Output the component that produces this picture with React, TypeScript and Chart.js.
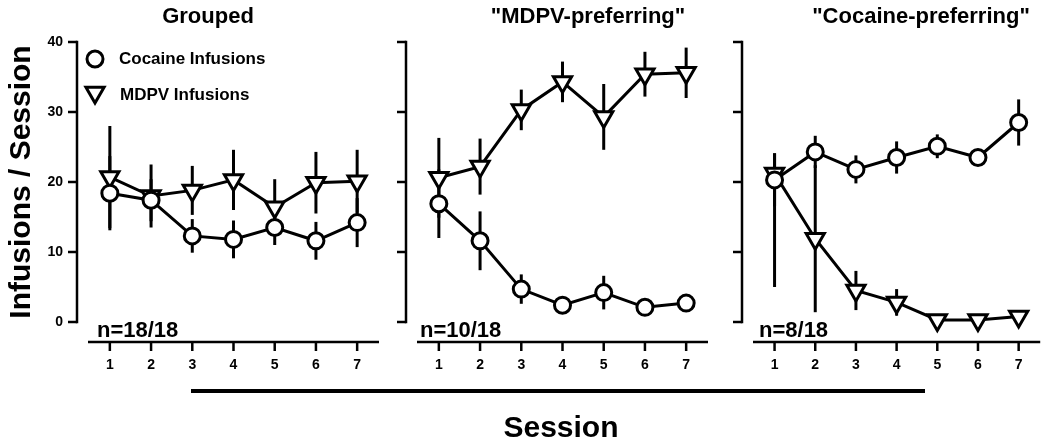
import React, { useEffect, useRef } from "react";
import { Chart, registerables } from "chart.js";

Chart.register(...registerables);

const FONT = "'Liberation Sans', Arial, Helvetica, sans-serif";

// ---- data ----
const sessions = [1, 2, 3, 4, 5, 6, 7];
const sessionLabels = ["1", "2", "3", "4", "5", "6", "7"];
const yTickValues = [0, 10, 20, 30, 40];
const yTickLabels = ["0", "10", "20", "30", "40"];
const panelTitles = ["Grouped", '"MDPV-preferring"', '"Cocaine-preferring"'];
const nLabels = ["n=18/18", "n=10/18", "n=8/18"];
const seriesNames = ["Cocaine Infusions", "MDPV Infusions"];
const yAxisTitle = "Infusions / Session";
const xAxisTitle = "Session";

// Grouped
const groupedCocaine = [18.4, 17.4, 12.3, 11.8, 13.5, 11.6, 14.2];
const groupedCocaineErr = [5.3, 3.0, 2.4, 2.7, 2.5, 2.7, 3.5];
const groupedMdpv = [20.7, 18.0, 18.8, 20.3, 16.4, 19.9, 20.1];
const groupedMdpvErr = [7.3, 4.5, 3.5, 4.3, 4.0, 4.4, 4.5];

// "MDPV-preferring"
const mdpvPrefCocaine = [16.9, 11.6, 4.7, 2.4, 4.2, 2.1, 2.7];
const mdpvPrefCocaineErr = [4.9, 4.2, 2.1, 0.5, 2.4, 0.4, 0.6];
const mdpvPrefMdpv = [20.6, 22.2, 30.3, 34.3, 29.3, 35.4, 35.6];
const mdpvPrefMdpvErr = [5.7, 4.0, 2.9, 2.9, 4.7, 3.2, 3.6];

// "Cocaine-preferring"
const cocPrefCocaine = [20.3, 24.3, 21.8, 23.5, 25.1, 23.5, 28.5];
const cocPrefCocaineErr = [3.8, 2.3, 2.0, 2.3, 1.7, 0.6, 3.3];
const cocPrefMdpv = [21.2, 11.9, 4.5, 2.8, 0.3, 0.3, 0.8];
const cocPrefMdpvErrDown = [16.2, 10.5, 2.8, 1.9, 0.3, 0.2, 0.5];
const cocPrefMdpvErrUp = [2.9, 10.5, 2.8, 1.9, 0.3, 0.2, 0.5];

type Series = { data: number[]; errDown: number[]; errUp: number[] };
type PanelDef = {
  title: string;
  nLabel: string;
  cocaine: Series;
  mdpv: Series;
  left: number;
  right: number;
  titleX: number;
  nX: number;
  showY: boolean;
  showLegend: boolean;
  showSession: boolean;
};

const panels: PanelDef[] = [
  {
    title: panelTitles[0],
    nLabel: nLabels[0],
    cocaine: { data: groupedCocaine, errDown: groupedCocaineErr, errUp: groupedCocaineErr },
    mdpv: { data: groupedMdpv, errDown: groupedMdpvErr, errUp: groupedMdpvErr },
    left: 88,
    right: 379,
    titleX: 208,
    nX: 97,
    showY: true,
    showLegend: true,
    showSession: false,
  },
  {
    title: panelTitles[1],
    nLabel: nLabels[1],
    cocaine: { data: mdpvPrefCocaine, errDown: mdpvPrefCocaineErr, errUp: mdpvPrefCocaineErr },
    mdpv: { data: mdpvPrefMdpv, errDown: mdpvPrefMdpvErr, errUp: mdpvPrefMdpvErr },
    left: 417,
    right: 708,
    titleX: 588,
    nX: 420,
    showY: false,
    showLegend: false,
    showSession: true,
  },
  {
    title: panelTitles[2],
    nLabel: nLabels[2],
    cocaine: { data: cocPrefCocaine, errDown: cocPrefCocaineErr, errUp: cocPrefCocaineErr },
    mdpv: { data: cocPrefMdpv, errDown: cocPrefMdpvErrDown, errUp: cocPrefMdpvErrUp },
    left: 753,
    right: 1044,
    titleX: 921,
    nX: 759,
    showY: false,
    showLegend: false,
    showSession: false,
  },
];

const W = 1050;
const H = 447;
const CIRCLE_R = 8;
const TRI_R = 10.5;

function drawTriangleDown(ctx: CanvasRenderingContext2D, x: number, y: number, r: number) {
  ctx.beginPath();
  for (let k = 0; k < 3; k++) {
    const a = Math.PI + (k * 2 * Math.PI) / 3;
    const px = x + Math.sin(a) * r;
    const py = y - Math.cos(a) * r;
    if (k === 0) ctx.moveTo(px, py);
    else ctx.lineTo(px, py);
  }
  ctx.closePath();
}

function makePlugin(p: PanelDef) {
  return {
    id: "prismDeco",
    beforeDatasetsDraw(chart: any) {
      const ctx: CanvasRenderingContext2D = chart.ctx;
      const xs = chart.scales.x;
      const ys = chart.scales.y;
      ctx.save();
      ctx.strokeStyle = "#000";
      ctx.lineWidth = 3;
      ctx.lineCap = "butt";
      [p.cocaine, p.mdpv].forEach((s) => {
        s.data.forEach((v, i) => {
          const x = xs.getPixelForValue(sessions[i]);
          const y1 = ys.getPixelForValue(v + s.errUp[i]);
          const y2 = ys.getPixelForValue(v - s.errDown[i]);
          ctx.beginPath();
          ctx.moveTo(x, y1);
          ctx.lineTo(x, y2);
          ctx.stroke();
        });
      });
      ctx.restore();
    },
    afterDraw(chart: any) {
      const ctx: CanvasRenderingContext2D = chart.ctx;
      const xs = chart.scales.x;
      const ys = chart.scales.y;
      const ca = chart.chartArea;
      ctx.save();
      ctx.strokeStyle = "#000";
      ctx.fillStyle = "#000";
      ctx.lineWidth = 2.5;
      ctx.lineCap = "butt";

      // y axis (offset, Prism style)
      const ax = ca.left - 11;
      const yTop = ys.getPixelForValue(yTickValues[yTickValues.length - 1]);
      const yBot = ys.getPixelForValue(yTickValues[0]);
      ctx.beginPath();
      ctx.moveTo(ax, yTop - 1.25);
      ctx.lineTo(ax, yBot + 1.25);
      ctx.stroke();
      yTickValues.forEach((v) => {
        const y = ys.getPixelForValue(v);
        ctx.beginPath();
        ctx.moveTo(ax - 9, y);
        ctx.lineTo(ax, y);
        ctx.stroke();
      });

      // x axis (offset below zero)
      const axY = yBot + 20;
      ctx.beginPath();
      ctx.moveTo(ca.left, axY);
      ctx.lineTo(ca.right, axY);
      ctx.stroke();
      sessions.forEach((s) => {
        const x = xs.getPixelForValue(s);
        ctx.beginPath();
        ctx.moveTo(x, axY);
        ctx.lineTo(x, axY + 9);
        ctx.stroke();
      });

      // panel title
      ctx.font = `bold 22px ${FONT}`;
      ctx.textAlign = "center";
      ctx.textBaseline = "alphabetic";
      ctx.fillText(p.title, p.titleX, 23);

      // n label
      ctx.font = `bold 22px ${FONT}`;
      ctx.textAlign = "left";
      ctx.fillText(p.nLabel, p.nX, 337);

      if (p.showLegend) {
        ctx.lineWidth = 3;
        ctx.fillStyle = "#fff";
        ctx.beginPath();
        ctx.arc(95, 59, CIRCLE_R, 0, Math.PI * 2);
        ctx.fill();
        ctx.stroke();
        drawTriangleDown(ctx, 95, 92.5, TRI_R);
        ctx.fill();
        ctx.stroke();
        ctx.fillStyle = "#000";
        ctx.font = `bold 17px ${FONT}`;
        ctx.textBaseline = "middle";
        ctx.fillText(seriesNames[0], 119, 59);
        ctx.fillText(seriesNames[1], 120, 95);
      }

      if (p.showSession) {
        ctx.lineWidth = 4;
        ctx.beginPath();
        ctx.moveTo(191, 391);
        ctx.lineTo(925, 391);
        ctx.stroke();
        ctx.font = `bold 30px ${FONT}`;
        ctx.textAlign = "center";
        ctx.textBaseline = "alphabetic";
        ctx.fillText(xAxisTitle, 561, 437);
      }
      ctx.restore();
    },
  };
}

function Panel({ p }: { p: PanelDef }) {
  const ref = useRef<HTMLCanvasElement | null>(null);
  useEffect(() => {
    if (!ref.current) return;
    const yWidth = p.showY ? 88 : 0;
    const chart = new Chart(ref.current, {
      type: "line",
      data: {
        datasets: [
          {
            label: seriesNames[0],
            data: sessions.map((s, i) => ({ x: s, y: p.cocaine.data[i] })),
            borderColor: "#000",
            borderWidth: 3,
            pointStyle: "circle",
            pointRadius: CIRCLE_R,
            pointHoverRadius: CIRCLE_R,
            pointBackgroundColor: "#fff",
            pointBorderColor: "#000",
            pointBorderWidth: 3,
            tension: 0,
            clip: false,
          } as any,
          {
            label: seriesNames[1],
            data: sessions.map((s, i) => ({ x: s, y: p.mdpv.data[i] })),
            borderColor: "#000",
            borderWidth: 3,
            pointStyle: "triangle",
            pointRotation: 180,
            pointRadius: TRI_R,
            pointHoverRadius: TRI_R,
            pointBackgroundColor: "#fff",
            pointBorderColor: "#000",
            pointBorderWidth: 3,
            tension: 0,
            clip: false,
          } as any,
        ],
      },
      options: {
        animation: false,
        responsive: false,
        events: [],
        layout: {
          autoPadding: false,
          padding: { left: p.left - yWidth, right: W - p.right, top: 42, bottom: 0 },
        },
        plugins: {
          legend: { display: false },
          tooltip: { enabled: false },
          title: { display: false },
        },
        scales: {
          x: {
            type: "linear",
            min: 0.47,
            max: 7.53,
            grid: { display: false },
            border: { display: false },
            afterBuildTicks: (s: any) => {
              s.ticks = sessions.map((v) => ({ value: v }));
            },
            afterFit: (s: any) => {
              s.height = 125;
            },
            ticks: {
              padding: 27,
              color: "#000",
              font: { family: FONT, size: 14, weight: "bold" },
              maxRotation: 0,
              autoSkip: false,
              callback: (v: any) => sessionLabels[sessions.indexOf(Number(v))],
            },
          },
          y: {
            type: "linear",
            min: 0,
            max: 40,
            grid: { display: false },
            border: { display: false },
            afterBuildTicks: (s: any) => {
              s.ticks = yTickValues.map((v) => ({ value: v }));
            },
            afterFit: (s: any) => {
              s.width = yWidth;
            },
            ticks: {
              display: p.showY,
              padding: 17,
              color: "#000",
              font: { family: FONT, size: 14, weight: "bold" },
              callback: (v: any) => yTickLabels[yTickValues.indexOf(Number(v))],
            },
            title: {
              display: p.showY,
              text: yAxisTitle,
              color: "#000",
              font: { family: FONT, size: 30, weight: "bold" },
              padding: { top: 4, bottom: 0 },
            },
          },
        },
      } as any,
      plugins: [makePlugin(p)],
    });
    return () => chart.destroy();
  }, [p]);
  return (
    <canvas
      ref={ref}
      width={W}
      height={H}
      style={{ position: "absolute", left: 0, top: 0, width: W, height: H, display: "block" }}
    />
  );
}

export default function App() {
  return (
    <div style={{ position: "absolute", left: 0, top: 0, width: W, height: H, background: "#fff", overflow: "hidden" }}>
      {panels.map((p, i) => (
        <Panel key={i} p={p} />
      ))}
    </div>
  );
}
